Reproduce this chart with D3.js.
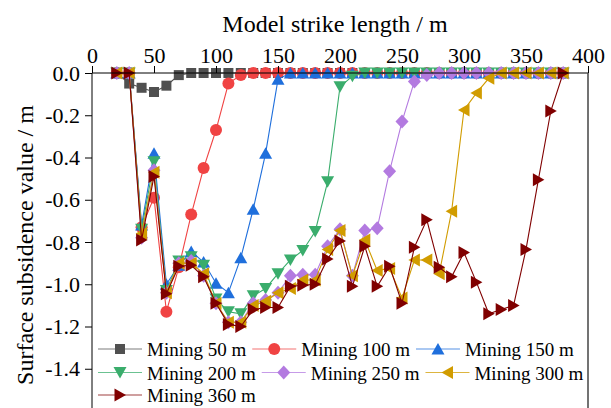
<!DOCTYPE html>
<html>
<head>
<meta charset="utf-8">
<script src="https://cdn.jsdelivr.net/npm/d3@7"></script>
<style>
  html, body { margin: 0; padding: 0; background: #fff; }
  svg { display: block; }
</style>
</head>
<body>
<svg id="chart" width="611" height="408"></svg>
<script>
// Strike positions (m) along the model
const strikeX = [20, 30, 40, 50, 60, 70, 80, 90, 100, 110, 120, 130, 140, 150, 160, 170, 180, 190, 200,
  210, 220, 230, 240, 250, 260, 270, 280, 290, 300, 310, 320, 330, 340, 350, 360, 370, 380];

// Surface subsidence (m) for each mining advance
const mining50 = [0, -0.05, -0.07, -0.09, -0.06, -0.01, 0, 0, 0, 0, 0, 0, 0, 0, 0, 0, 0, 0, 0,
  0, 0, 0, 0, 0, 0, 0, 0, 0, 0, 0, 0, 0, 0, 0, 0, 0, 0];
const mining100 = [0, 0, -0.73, -0.59, -1.13, -0.92, -0.67, -0.45, -0.27, -0.05, -0.01, 0, 0, 0, 0, 0, 0, 0, 0,
  0, 0, 0, 0, 0, 0, 0, 0, 0, 0, 0, 0, 0, 0, 0, 0, 0, 0];
const mining150 = [0, 0, -0.72, -0.38, -1.0, -0.91, -0.845, -0.895, -0.995, -1.04, -0.875, -0.645, -0.38, -0.03, 0, 0, 0, 0, 0,
  0, 0, 0, 0, 0, 0, 0, 0, 0, 0, 0, 0, 0, 0, 0, 0, 0, 0];
const mining200 = [0, 0, -0.74, -0.42, -1.03, -0.89, -0.87, -0.91, -1.07, -1.13, -1.14, -1.055, -1.02, -0.95, -0.885, -0.84, -0.75, -0.515, -0.065,
  -0.015, 0, 0, 0, 0, 0, 0, 0, 0, 0, 0, 0, 0, 0, 0, 0, 0, 0];
const mining250 = [0, 0, -0.78, -0.46, -1.04, -0.9, -0.89, -0.96, -1.09, -1.18, -1.18, -1.09, -1.075, -1.04, -0.96, -0.955, -0.955, -0.82, -0.74,
  -0.96, -0.745, -0.735, -0.465, -0.23, -0.04, -0.01, 0, 0, 0, 0, 0, 0, 0, 0, 0, 0, 0];
const mining300 = [0, 0, -0.76, -0.47, -1.04, -0.9, -0.9, -0.95, -1.09, -1.18, -1.18, -1.1, -1.08, -1.04, -1.02, -0.98, -0.98, -0.835, -0.745,
  -0.96, -0.79, -0.935, -0.925, -1.065, -0.885, -0.885, -0.95, -0.655, -0.175, -0.095, -0.025, 0, 0, 0, 0, 0, 0];
const mining360 = [0, 0, -0.79, -0.49, -1.045, -0.915, -0.91, -0.965, -1.09, -1.19, -1.2, -1.12, -1.11, -1.11, -1.01, -1.005, -1.0, -0.88, -0.795,
  -1.01, -0.82, -1.01, -0.915, -1.09, -0.825, -0.695, -0.92, -0.965, -0.85, -0.99, -1.14, -1.12, -1.10, -0.835, -0.505, -0.18, 0];

const seriesNames = ["Mining 50 m", "Mining 100 m", "Mining 150 m", "Mining 200 m",
  "Mining 250 m", "Mining 300 m", "Mining 360 m"];
const seriesValues = [mining50, mining100, mining150, mining200, mining250, mining300, mining360];
const seriesColors = ["#505050", "#f04343", "#1f6fdc", "#3aad6c", "#b37ae0", "#d19c00", "#800000"];
const seriesShapes = ["square", "circle", "triUp", "triDown", "diamond", "triLeft", "triRight"];

const xTicks = [0, 50, 100, 150, 200, 250, 300, 350, 400];
const yTicks = [0.0, -0.2, -0.4, -0.6, -0.8, -1.0, -1.2, -1.4];

const serif = "'Liberation Serif'";
const svg = d3.select("#chart");
const plotLeft = 92, plotRight = 588, plotTop = 73, plotBottom = 411;

const x = d3.scaleLinear().domain([0, 400]).range([plotLeft, plotRight]);
const y = d3.scaleLinear().domain([-1.6, 0]).range([plotBottom, plotTop]);

// Marker outlines, centred on their bounding box
function shapePath(shape) {
  switch (shape) {
    case "square": return "M-5,-5H5V5H-5Z";
    case "circle": return "M6,0A6,6 0 1,1 -6,0A6,6 0 1,1 6,0Z";
    case "triUp": return "M0,-6L6.5,5.5L-6.5,5.5Z";
    case "triDown": return "M0,6L6.5,-5.5L-6.5,-5.5Z";
    case "diamond": return "M0,-7L6.5,0L0,7L-6.5,0Z";
    case "triLeft": return "M-6,0L5.5,-6.5L5.5,6.5Z";
    case "triRight": return "M6,0L-5.5,-6.5L-5.5,6.5Z";
  }
}

// Series: lines and markers, first series at the bottom
const plot = svg.append("g");
const line = d3.line().x((d, i) => x(strikeX[i])).y(d => y(d));
seriesValues.forEach((vals, s) => {
  const g = plot.append("g");
  g.append("path")
    .attr("d", line(vals))
    .attr("fill", "none")
    .attr("stroke", seriesColors[s])
    .attr("stroke-width", 1.1);
  g.selectAll("path.m")
    .data(vals)
    .join("path")
    .attr("class", "m")
    .attr("d", shapePath(seriesShapes[s]))
    .attr("transform", (d, i) => `translate(${x(strikeX[i])},${y(d)})`)
    .attr("fill", seriesColors[s]);
});

// Top axis (strike length)
const xAxis = d3.axisTop(x).tickValues(xTicks).tickSize(7).tickPadding(3).tickFormat(d3.format("d"));
const gx = svg.append("g").attr("transform", `translate(0,${plotTop})`).call(xAxis);
gx.select(".domain").attr("d", `M${plotLeft},0H${plotRight}`).attr("stroke", "#000");
gx.selectAll(".tick line").attr("stroke", "#000");
gx.selectAll(".tick text").attr("fill", "#000")
  .attr("font-family", serif).attr("font-size", 22);

// Left axis (subsidence)
const yAxis = d3.axisLeft(y).tickValues(yTicks).tickSize(7).tickPadding(5)
  .tickFormat(d => d3.format(".1f")(d).replace("\u2212", "-"));
const gy = svg.append("g").attr("transform", `translate(${plotLeft},0)`).call(yAxis);
gy.select(".domain").attr("d", `M0,${plotTop}V${plotBottom}`).attr("stroke", "#000");
gy.selectAll(".tick line").attr("stroke", "#000");
gy.selectAll(".tick text").attr("fill", "#000")
  .attr("font-family", serif).attr("font-size", 22);

// Right frame line
svg.append("line")
  .attr("x1", plotRight).attr("x2", plotRight)
  .attr("y1", plotTop).attr("y2", plotBottom)
  .attr("stroke", "#444").attr("stroke-width", 1.5);

// Axis titles
svg.append("text")
  .attr("x", 335).attr("y", 32)
  .attr("text-anchor", "middle")
  .attr("font-family", serif)
  .attr("font-size", 24)
  .text("Model strike length / m");

svg.append("text")
  .attr("transform", "translate(33,245) rotate(-90)")
  .attr("text-anchor", "middle")
  .attr("font-family", serif)
  .attr("font-size", 24)
  .text("Surface subsidence value / m");

// Legend: three rows laid out left to right
const legendRows = [[0, 1, 2], [3, 4, 5], [6]];
const rowY = [349, 372.5, 395];
const legend = svg.append("g");
legendRows.forEach((row, r) => {
  let cx = 98;
  row.forEach(s => {
    const g = legend.append("g").attr("transform", `translate(${cx},${rowY[r]})`);
    g.append("line").attr("x1", 0).attr("x2", 44).attr("y1", 0).attr("y2", 0)
      .attr("stroke", seriesColors[s]).attr("stroke-width", 1.1).attr("stroke-opacity", 0.75);
    g.append("path").attr("d", shapePath(seriesShapes[s]))
      .attr("transform", "translate(22,0)").attr("fill", seriesColors[s]);
    const t = g.append("text").attr("x", 49).attr("y", 7)
      .attr("font-family", serif)
      .attr("font-size", 19).text(seriesNames[s]);
    cx += 49 + t.node().getComputedTextLength() + 6;
  });
});
</script>
</body>
</html>
